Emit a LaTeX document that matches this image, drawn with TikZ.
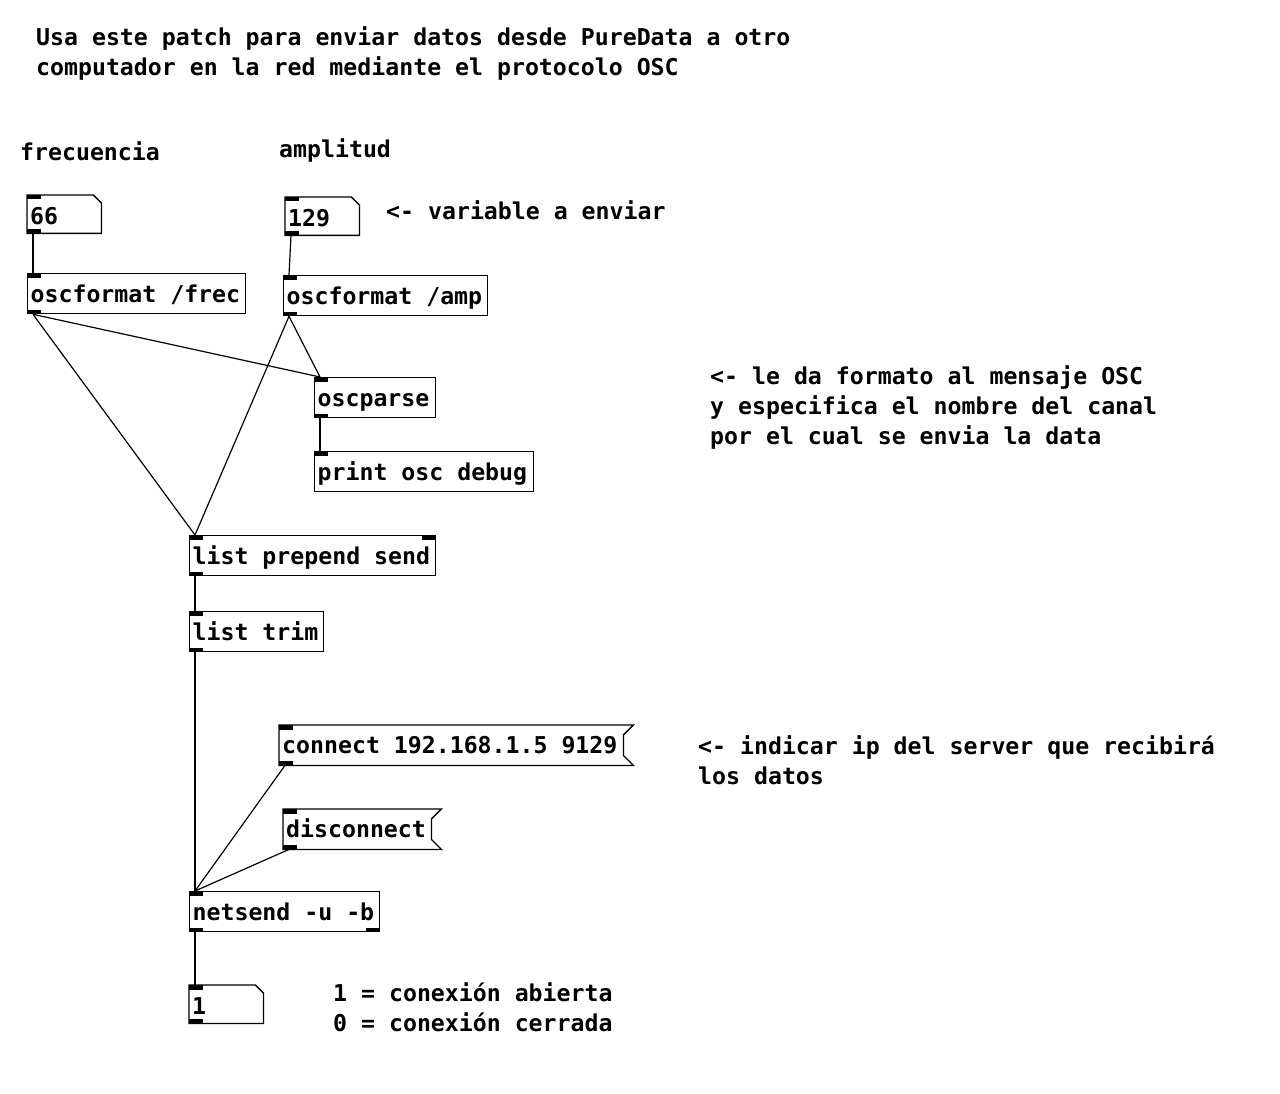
\documentclass[tikz,border=0pt]{standalone}
\usepackage{fontspec}
\newfontfamily\pdmono{DejaVu Sans Mono}
\begin{document}
\begin{tikzpicture}[x=1pt,y=-1pt,
  pd/.style={font=\pdmono\bfseries\fontsize{23.2pt}{30pt}\selectfont},
  box/.style={pd, anchor=north west, inner xsep=3pt, inner ysep=0pt,
    text height=21pt, text depth=4pt, minimum height=40pt,
    execute at begin node={\noindent\spaceskip=0pt\xspaceskip=0pt}},
  objbox/.style={box, draw, line width=1.3pt},
  numbox/.style={box, text height=22pt, text depth=2pt, minimum height=38pt},
  outline/.style={line width=1.3pt, line join=miter},
  lbl/.style={pd, anchor=base west, inner sep=0pt},
  wire/.style={line width=1.2pt},
  port/.style={fill=black}]
\useasboundingbox (0,0) rectangle (1280,1094);
\fill[white] (0,0) rectangle (1280,1094);

% comments
\node[lbl] (t1) at (36,46) {Usa este patch para enviar datos desde PureData a otro};
\node[lbl] (t2) at (36,76) {computador en la red mediante el protocolo OSC};
\node[lbl] (tf) at (20,161) {frecuencia};
\node[lbl] (ta) at (279,158) {amplitud};
\node[lbl] (tv) at (386,220) {<- variable a enviar};
\node[lbl] (r1) at (710,384) {<- le da formato al mensaje OSC};
\node[lbl] (r2) at (710,414) {y especifica el nombre del canal};
\node[lbl] (r3) at (710,444) {por el cual se envia la data};
\node[lbl] (i1) at (698,754) {<- indicar ip del server que recibirá};
\node[lbl] (i2) at (698,784) {los datos};
\node[lbl] (c1) at (333,1001) {1 = conexión abierta};
\node[lbl] (c2) at (333,1031) {0 = conexión cerrada};

% number boxes
\node[numbox, text width=68pt] (n66) at (27,195) {66};
\node[numbox, text width=68pt] (n129) at (285,197) {129};
\node[numbox, text width=68pt] (n1) at (189,985) {1};
\foreach \n in {n66,n129,n1}{
  \draw[outline] (\n.north west) -- ([xshift=-8pt]\n.north east)
    -- ([yshift=-8pt]\n.north east) -- (\n.south east) -- (\n.south west) -- cycle;
  \fill[port] (\n.north west) rectangle ([xshift=14pt,yshift=-4.5pt]\n.north west);
  \fill[port] (\n.south west) rectangle ([xshift=14pt,yshift=4.5pt]\n.south west);
}

% object boxes
\node[objbox, text width=212pt] (of1) at (27,273) {oscformat /frec};
\node[objbox, text width=198pt] (of2) at (283,275) {oscformat /amp};
\node[objbox, text width=115pt] (op) at (314,377) {oscparse};
\node[objbox, text width=213pt] (pr) at (314,451) {print osc debug};
\node[objbox, text width=240pt] (lp) at (189,535) {list prepend send};
\node[objbox, text width=128pt] (lt) at (189,611) {list trim};
\node[objbox, text width=184pt] (ns) at (189,891) {netsend -u -b};

% message boxes
\node[box, text width=348pt] (mc) at (279,725) {connect 192.168.1.5 9129};
\node[box, text width=152pt] (md) at (283,809) {disconnect};
\foreach \n in {mc,md}{
  \draw[outline] (\n.north west) -- (\n.north east)
    -- ([shift={(-10pt,-10pt)}]\n.north east) -- ([shift={(-10pt,10pt)}]\n.south east)
    -- (\n.south east) -- (\n.south west) -- cycle;
  \fill[port] (\n.north west) rectangle ([xshift=14pt,yshift=-4.5pt]\n.north west);
  \fill[port] (\n.south west) rectangle ([xshift=14pt,yshift=4.5pt]\n.south west);
}

% inlets
\foreach \n in {of1,of2,op,pr,lp,lt,ns}{
  \fill[port] (\n.north west) rectangle ([xshift=14pt,yshift=-4.5pt]\n.north west);
}
\fill[port] (lp.north east) rectangle ([xshift=-14pt,yshift=-4.5pt]lp.north east);
% outlets
\foreach \n in {of1,of2,op,lp,lt,ns}{
  \fill[port] (\n.south west) rectangle ([xshift=14pt,yshift=4.5pt]\n.south west);
}
\fill[port] (ns.south east) rectangle ([xshift=-14pt,yshift=4.5pt]ns.south east);

% wires
\draw[wire] ([xshift=6pt]n66.south west) -- ([xshift=6pt]of1.north west);
\draw[wire] ([xshift=6pt]n129.south west) -- ([xshift=6pt]of2.north west);
\draw[wire] ([xshift=6pt]of1.south west) -- ([xshift=6pt]op.north west);
\draw[wire] ([xshift=6pt]of1.south west) -- ([xshift=6pt]lp.north west);
\draw[wire] ([xshift=6pt]of2.south west) -- ([xshift=6pt]op.north west);
\draw[wire] ([xshift=6pt]of2.south west) -- ([xshift=6pt]lp.north west);
\draw[wire] ([xshift=6pt]op.south west) -- ([xshift=6pt]pr.north west);
\draw[wire] ([xshift=6pt]lp.south west) -- ([xshift=6pt]lt.north west);
\draw[wire] ([xshift=6pt]lt.south west) -- ([xshift=6pt]ns.north west);
\draw[wire] ([xshift=6pt]mc.south west) -- ([xshift=6pt]ns.north west);
\draw[wire] ([xshift=6pt]md.south west) -- ([xshift=6pt]ns.north west);
\draw[wire] ([xshift=6pt]ns.south west) -- ([xshift=6pt]n1.north west);
\end{tikzpicture}
\end{document}
